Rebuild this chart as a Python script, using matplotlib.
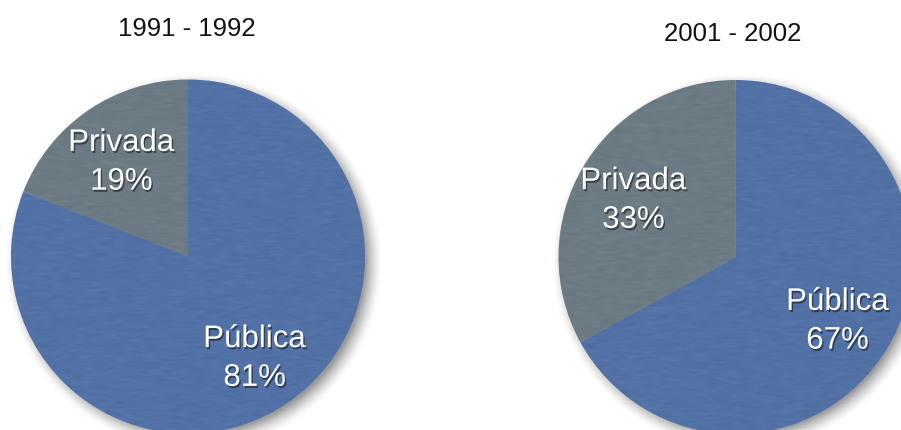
import numpy as np
import matplotlib
matplotlib.use("Agg")
import matplotlib.pyplot as plt
import matplotlib.patheffects as pe
from matplotlib.patches import Circle

plt.rcParams['font.family'] = ['Liberation Sans', 'DejaVu Sans']

# Data
periods = ["1991 - 1992", "2001 - 2002"]
categories = ["Pública", "Privada"]
publica = [81, 67]
privada = [19, 33]

colors = ["#4F70A8", "#6B7B84"]

W, H = 901, 430
fig = plt.figure(figsize=(W / 100, H / 100), dpi=100)
fig.patch.set_facecolor("white")

# pie centres / radii in pixels, title positions in pixels
centres = [(188, 256.5), (735.5, 257)]
radius_px = 177
title_px = [(187, 29), (733, 34)]
pad = 1.2

# soft drop shadow image (blurred disc)
n = 300
g = np.linspace(-pad, pad, n)
gx, gy = np.meshgrid(g, g)
dist = np.sqrt((gx - 0.03) ** 2 + (gy + 0.03) ** 2)
shadow_alpha = np.clip((1.07 - dist) / 0.1, 0, 1) ** 1.5 * 0.4
shadow = np.zeros((n, n, 4))
shadow[..., 3] = shadow_alpha

# fine streaky texture for the wedges
rng = np.random.default_rng(3)
tex = rng.normal(size=(220, 60))
tex = np.repeat(tex, 6, axis=1)
k = np.ones(9) / 9
tex = np.apply_along_axis(lambda r: np.convolve(r, k, mode="same"), 1, tex)
tex = (tex - tex.min()) / (tex.max() - tex.min())

for i, (cx, cy) in enumerate(centres):
    half = radius_px * pad
    ax = fig.add_axes([(cx - half) / W, (H - cy - half) / H, 2 * half / W, 2 * half / H])

    ax.imshow(shadow, extent=(-pad, pad, -pad, pad), origin="lower", zorder=0)

    vals = [publica[i], privada[i]]
    labels = [f"{c}\n{v}%" for c, v in zip(categories, vals)]
    wedges, texts = ax.pie(vals, labels=labels, colors=colors, startangle=90,
                           counterclock=False, radius=1, labeldistance=0.67,
                           wedgeprops=dict(linewidth=0, zorder=1),
                           textprops=dict(color="white", fontsize=22.5,
                                          linespacing=1.38))
    for w in wedges:
        w.set_zorder(1)
    for t in texts:
        t.set_ha("center")
        t.set_va("center")
        t.set_y(t.get_position()[1] - 0.022)
        t.set_zorder(5)
        t.set_path_effects([pe.withSimplePatchShadow(offset=(1, -1.5),
                                                     shadow_rgbFace="black",
                                                     alpha=0.45)])

    im = ax.imshow(tex, extent=(-1, 1, -1, 1), cmap="gray", alpha=0.07,
                   zorder=2, aspect="auto", interpolation="bilinear")
    clip = Circle((0, 0), 1, transform=ax.transData)
    im.set_clip_path(clip)

    ax.set_xlim(-pad, pad)
    ax.set_ylim(-pad, pad)
    ax.set_aspect("equal")
    ax.axis("off")

    tx, ty = title_px[i]
    fig.text(tx / W, 1 - ty / H, periods[i], ha="center", va="center",
             fontsize=18.5, color="#111111")

fig.savefig("out.png", dpi=100)
